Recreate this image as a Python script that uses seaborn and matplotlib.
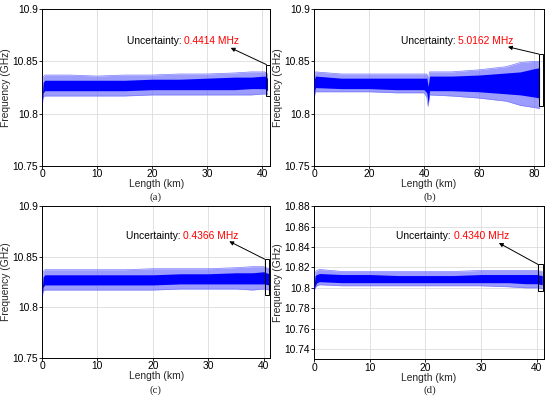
import numpy as np
import pandas as pd
import matplotlib
matplotlib.use("Agg")
import matplotlib.pyplot as plt
import seaborn as sns

sns.set_theme(style="whitegrid")
plt.rcParams['font.family'] = ['Liberation Sans', 'DejaVu Sans']

# ---- data (envelopes of the noisy traces, GHz) ----
# panel (a)
a_x = [0.0, 0.2, 0.5, 5, 10, 15, 20, 25, 30, 35, 38, 40.5, 41.0]
a_core_lo = [10.808, 10.820, 10.822, 10.822, 10.822, 10.822, 10.823, 10.823, 10.823, 10.823, 10.824, 10.824, 10.822]
a_core_hi = [10.812, 10.830, 10.832, 10.832, 10.832, 10.832, 10.833, 10.833, 10.834, 10.835, 10.835, 10.836, 10.834]
a_spk_lo = [10.806, 10.816, 10.817, 10.817, 10.817, 10.817, 10.818, 10.818, 10.818, 10.818, 10.818, 10.819, 10.818]
a_spk_hi = [10.814, 10.835, 10.837, 10.837, 10.836, 10.837, 10.837, 10.838, 10.838, 10.839, 10.840, 10.840, 10.838]

# panel (b)
b_x = [0.0, 0.5, 10, 20, 30, 40, 41.0, 41.5, 42.0, 50, 60, 70, 75, 80, 82.0]
b_core_lo = [10.818, 10.825, 10.824, 10.824, 10.823, 10.823, 10.820, 10.810, 10.822, 10.822, 10.821, 10.819, 10.818, 10.816, 10.815]
b_core_hi = [10.832, 10.836, 10.834, 10.834, 10.834, 10.834, 10.834, 10.826, 10.836, 10.836, 10.837, 10.839, 10.840, 10.843, 10.844]
b_spk_lo = [10.815, 10.821, 10.821, 10.821, 10.820, 10.820, 10.816, 10.807, 10.818, 10.817, 10.815, 10.812, 10.808, 10.806, 10.805]
b_spk_hi = [10.836, 10.840, 10.838, 10.838, 10.838, 10.838, 10.838, 10.832, 10.840, 10.840, 10.842, 10.845, 10.849, 10.850, 10.850]

# panel (c)
c_x = [0.0, 0.2, 0.5, 5, 10, 15, 20, 25, 30, 35, 38, 40.0, 41.0]
c_core_lo = [10.810, 10.820, 10.822, 10.822, 10.822, 10.822, 10.822, 10.823, 10.823, 10.823, 10.823, 10.823, 10.822]
c_core_hi = [10.814, 10.830, 10.832, 10.832, 10.832, 10.832, 10.832, 10.833, 10.833, 10.834, 10.834, 10.835, 10.833]
c_spk_lo = [10.808, 10.816, 10.817, 10.817, 10.817, 10.817, 10.817, 10.818, 10.818, 10.818, 10.817, 10.818, 10.817]
c_spk_hi = [10.816, 10.835, 10.837, 10.837, 10.837, 10.837, 10.838, 10.838, 10.838, 10.839, 10.840, 10.840, 10.838]

# panel (d)
d_x = [0.0, 0.2, 0.5, 1.0, 5, 10, 15, 20, 25, 30, 35, 38, 40.0, 41.0]
d_core_lo = [10.798, 10.802, 10.805, 10.806, 10.805, 10.805, 10.805, 10.805, 10.805, 10.805, 10.805, 10.804, 10.804, 10.803]
d_core_hi = [10.802, 10.812, 10.813, 10.814, 10.813, 10.813, 10.812, 10.812, 10.812, 10.813, 10.813, 10.813, 10.813, 10.812]
d_spk_lo = [10.796, 10.800, 10.802, 10.803, 10.802, 10.802, 10.802, 10.802, 10.802, 10.802, 10.801, 10.800, 10.800, 10.799]
d_spk_hi = [10.804, 10.815, 10.817, 10.818, 10.816, 10.816, 10.816, 10.816, 10.816, 10.817, 10.817, 10.817, 10.817, 10.816]

uncertainties = ["0.4414 MHz", "5.0162 MHz", "0.4366 MHz", "0.4340 MHz"]
captions = ["(a)", "(b)", "(c)", "(d)"]

panels = [
    dict(x=a_x, clo=a_core_lo, chi=a_core_hi, slo=a_spk_lo, shi=a_spk_hi,
         xlim=(0, 41.5), xticks=[0, 10, 20, 30, 40], ylim=(10.75, 10.9),
         yticks=[10.75, 10.8, 10.85, 10.9], yfmt=["10.75", "10.8", "10.85", "10.9"],
         rect=(40.8, 10.817, 0.7, 0.030), txt=(15.4, 10.870), arrow_end=(34.3, 10.863),
         pos=[0.0764, 0.584, 0.415, 0.393], cap=(0.282, 0.506)),
    dict(x=b_x, clo=b_core_lo, chi=b_core_hi, slo=b_spk_lo, shi=b_spk_hi,
         xlim=(0, 83.6), xticks=[0, 20, 40, 60, 80], ylim=(10.75, 10.9),
         yticks=[10.75, 10.8, 10.85, 10.9], yfmt=["10.75", "10.8", "10.85", "10.9"],
         rect=(81.8, 10.807, 1.5, 0.050), txt=(31.5, 10.870), arrow_end=(70.5, 10.864),
         pos=[0.571, 0.584, 0.418, 0.393], cap=(0.782, 0.506)),
    dict(x=c_x, clo=c_core_lo, chi=c_core_hi, slo=c_spk_lo, shi=c_spk_hi,
         xlim=(0, 41.2), xticks=[0, 10, 20, 30, 40], ylim=(10.75, 10.9),
         yticks=[10.75, 10.8, 10.85, 10.9], yfmt=["10.75", "10.8", "10.85", "10.9"],
         rect=(40.2, 10.8124, 0.8, 0.035), txt=(15.1, 10.8705), arrow_end=(33.8, 10.865),
         pos=[0.0764, 0.103, 0.415, 0.381], cap=(0.282, 0.022)),
    dict(x=d_x, clo=d_core_lo, chi=d_core_hi, slo=d_spk_lo, shi=d_spk_hi,
         xlim=(0, 41.3), xticks=[0, 10, 20, 30, 40], ylim=(10.73, 10.88),
         yticks=[10.74, 10.76, 10.78, 10.8, 10.82, 10.84, 10.86, 10.88],
         yfmt=["10.74", "10.76", "10.78", "10.8", "10.82", "10.84", "10.86", "10.88"],
         rect=(40.2, 10.797, 1.0, 0.026), txt=(14.8, 10.851), arrow_end=(33.2, 10.844),
         pos=[0.571, 0.100, 0.418, 0.383], cap=(0.782, 0.022)),
]

fig = plt.figure(figsize=(5.5, 3.99), dpi=100)
fig.patch.set_facecolor("white")
fs = 7.4

for p, unc, cap in zip(panels, uncertainties, captions):
    ax = fig.add_axes(p["pos"])
    ax.set_facecolor("white")
    df = pd.DataFrame({"x": p["x"], "clo": p["clo"], "chi": p["chi"],
                       "slo": p["slo"], "shi": p["shi"]})
    ax.fill_between(df["x"], df["slo"], df["shi"], color="#5a5aff", alpha=0.6, lw=0, zorder=2)
    ax.fill_between(df["x"], df["clo"], df["chi"], color="#0000ff", lw=0, zorder=3)
    sns.lineplot(data=df, x="x", y="shi", ax=ax, color="#7a7aff", lw=0.5, zorder=2)
    sns.lineplot(data=df, x="x", y="slo", ax=ax, color="#7a7aff", lw=0.5, zorder=2)
    ax.set_xlim(*p["xlim"])
    ax.set_ylim(*p["ylim"])
    ax.set_xticks(p["xticks"])
    ax.set_xticklabels([str(t) for t in p["xticks"]], fontsize=fs)
    ax.set_yticks(p["yticks"])
    ax.set_yticklabels(p["yfmt"], fontsize=fs)
    ax.grid(True, color="#dcdcdc", lw=0.6)
    for s in ax.spines.values():
        s.set_color("black")
        s.set_linewidth(0.7)
    ax.tick_params(direction="out", length=2, width=0.6, pad=1, colors="black",
                   labelsize=fs, top=False, right=False, bottom=True, left=True)
    ax.tick_params(axis="x", pad=0.5)
    ax.set_xlabel("Length (km)", fontsize=fs, labelpad=0)
    ax.set_ylabel("Frequency (GHz)", fontsize=fs, labelpad=1)
    rx, ry, rw, rh = p["rect"]
    ax.add_patch(plt.Rectangle((rx, ry), rw, rh, fill=False, ec="black", lw=0.7,
                               zorder=5, clip_on=False))
    t1 = ax.text(p["txt"][0], p["txt"][1], "Uncertainty: ", fontsize=fs, color="black",
                 va="center", ha="left", zorder=6)
    fig.canvas.draw()
    bb = t1.get_window_extent()
    x_end = ax.transData.inverted().transform((bb.x1, bb.y0))[0]
    ax.text(x_end, p["txt"][1], unc, fontsize=fs, color="red", va="center", ha="left",
            zorder=6)
    ax.annotate("", xy=p["arrow_end"], xytext=(rx, ry + rh),
                arrowprops=dict(arrowstyle="-|>", color="black", lw=0.7,
                                mutation_scale=6, shrinkA=0, shrinkB=0), zorder=6)
    fig.text(p["cap"][0], p["cap"][1], cap, fontsize=7.8, family="Liberation Serif",
             ha="center", va="center")

fig.savefig("out.png", dpi=100)
